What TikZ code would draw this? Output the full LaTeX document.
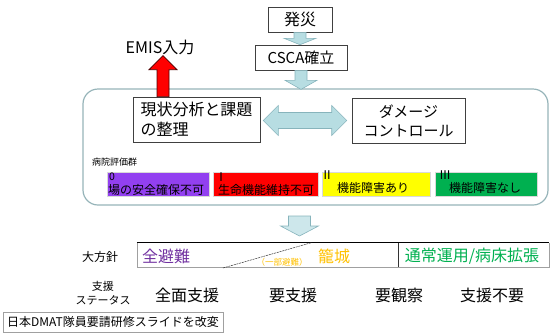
\documentclass[tikz,border=0pt]{standalone}
\usepackage{fontspec}
\setmainfont{Noto Sans CJK JP}
\usetikzlibrary{calc}
\definecolor{abfill}{RGB}{183,221,226}
\definecolor{abdraw}{RGB}{135,180,188}
\definecolor{frm}{RGB}{150,180,185}
\definecolor{boxpur}{RGB}{146,64,240}
\definecolor{txtpur}{RGB}{112,48,160}
\definecolor{orng}{RGB}{255,192,0}
\definecolor{grn}{RGB}{0,176,80}
\definecolor{ylw}{RGB}{255,255,0}
\definecolor{gline}{RGB}{160,160,160}
\begin{document}
\begin{tikzpicture}[x=1pt,y=-1pt,
  fA/.style={font=\fontsize{16}{20}\selectfont},
  fB/.style={font=\fontsize{15}{19}\selectfont},
  fC/.style={font=\fontsize{12}{14}\selectfont},
  fD/.style={font=\fontsize{11}{14}\selectfont},
  fE/.style={font=\fontsize{9}{11}\selectfont},
  fR/.style={font=\fontsize{12}{13}\selectfont},
  wbox/.style={draw=black!75, line width=0.6pt, fill=white, inner sep=0pt},
  cbox/.style={draw=white!85!black, line width=0.5pt, minimum height=24pt, inner sep=0pt},
  barrow/.style={draw=abdraw, fill=abfill, line width=0.6pt, line join=miter},
  rarrow/.style={draw=black!70!red, fill=red, line width=0.8pt}]
\useasboundingbox (0,0) rectangle (550,333);

% top chain
\node[wbox, fA, minimum width=64pt, minimum height=25pt] (hs) at (300,19.5) {発災};
\node[wbox, fB, minimum width=92pt, minimum height=25pt] (cs) at (301,57.5) {CSCA確立};
\node[draw=frm, line width=1.2pt, rounded corners=15pt, minimum width=465pt, minimum height=116pt] (big) at (315.5,147) {};

\draw[barrow] let \p1=(hs.south), \p2=(cs.north) in
  (\x1-6pt,\y1) -- (\x1+6pt,\y1) -- (\x1+6pt,\y1-6pt) -- (\x1+16pt,\y1-6pt)
  -- (\x1,\y2) -- (\x1-16pt,\y1-6pt) -- (\x1-6pt,\y1-6pt) -- cycle;
\draw[barrow] let \p1=(cs.south), \p2=(big.north) in
  (\x1-6pt,\y1) -- (\x1+6pt,\y1) -- (\x1+6pt,\y1-10pt) -- (\x1+16pt,\y1-10pt)
  -- (\x1,\y2-1pt) -- (\x1-16pt,\y1-10pt) -- (\x1-6pt,\y1-10pt) -- cycle;

% inner boxes
\node[wbox, fA, minimum width=127pt, minimum height=45pt, align=left] (an) at (196.5,119.5) {現状分析と課題\\の整理};
\node[wbox, fB, minimum width=113pt, minimum height=45pt, align=center] (dm) at (408.5,120.5) {ダメージ\\コントロール};

\node[fA, inner sep=0pt] (emis) at (160,47) {EMIS入力};
\draw[rarrow] let \p1=(an.north), \p2=(emis.south) in
  (\x1-39.5pt,\y1) -- (\x1-27.5pt,\y1) -- (\x1-27.5pt,\y1+27pt) -- (\x1-19.5pt,\y1+27pt)
  -- (\x1-33.5pt,\y2-1pt) -- (\x1-47.5pt,\y1+27pt) -- (\x1-39.5pt,\y1+27pt) -- cycle;

\draw[barrow] let \p1=(an.east), \p2=(dm.west) in
  (\x1+3pt,\y1-1pt) -- (\x1+18pt,\y1-16pt) -- (\x1+18pt,\y1-9pt) -- (\x2-20pt,\y1-9pt)
  -- (\x2-20pt,\y1-16pt) -- (\x2-5pt,\y1-1pt) -- (\x2-20pt,\y1+14pt) -- (\x2-20pt,\y1+7pt)
  -- (\x1+18pt,\y1+7pt) -- (\x1+18pt,\y1+14pt) -- cycle;

% hospital evaluation groups
\node[fE, anchor=west, inner sep=0pt] (hg) at (92,162) {病院評価群};
\node[cbox, fill=boxpur, minimum width=102pt] (c0) at (158,184) {};
\node[cbox, fill=red, minimum width=105pt] (c1) at (265.5,184) {};
\node[cbox, fill=ylw, minimum width=108pt] (c2) at (376,184) {};
\node[cbox, fill=grn, minimum width=102pt] (c3) at (486,184) {};
\node[font=\fontsize{10.5}{12}\selectfont, anchor=west, inner sep=0pt] (l0) at (109,177) {0};
\node[fC, anchor=west, inner sep=0pt] (t0) at (108,190) {場の安全確保不可};
\node[fR, anchor=west, inner sep=0pt] (l1) at (215,177) {Ⅰ};
\node[fC, anchor=west, inner sep=0pt] (t1) at (218,190) {生命機能維持不可};
\node[fR, anchor=west, inner sep=0pt] (l2) at (321,175.5) {Ⅱ};
\node[fC, inner sep=0pt] (t2) at (373,188) {機能障害あり};
\node[fR, anchor=west, inner sep=0pt] (l3) at (439,175.5) {Ⅲ};
\node[fC, inner sep=0pt] (t3) at (485,188) {機能障害なし};

% down arrow to policy
\coordinate (da) at (299.5,216);
\coordinate (db) at (299.5,236);
\draw[barrow, fill=abfill!70!white] let \p1=(da), \p2=(db) in
  (\x1-11pt,\y1) -- (\x1+11pt,\y1) -- (\x1+11pt,\y1-10pt) -- (\x1+19pt,\y1-10pt)
  -- (\x2,\y2) -- (\x1-19pt,\y1-10pt) -- (\x1-11pt,\y1-10pt) -- cycle;

% policy row
\node[minimum width=261pt, minimum height=24pt, inner sep=0pt] (pl) at (267.5,255) {};
\node[minimum width=151pt, minimum height=24pt, inner sep=0pt] (pr) at (473.5,255) {};
\draw[gline, line width=0.6pt] (pl.north west) -- (pl.south west) -- (pr.south east) -- (pr.north east);
\draw[black, line width=0.7pt] (pl.north west) -- (pr.north east);
\draw[black!80, line width=0.7pt] (pl.north east) -- (pl.south east);
\coordinate (dg1) at (223,268);
\coordinate (dg2) at (312,242.5);
\draw[black!80, line width=0.5pt, dash pattern=on 2pt off 0.8pt] (dg1) -- (dg2);

\node[fC, inner sep=0pt] (pol) at (100,257) {大方針};
\node[fA, text=txtpur, anchor=west, inner sep=0pt] (p1) at (142,256) {全避難};
\node[font=\fontsize{8.5}{10}\selectfont, text=orng, inner sep=0pt] (p2) at (282,262) {（一部避難）};
\node[fA, text=orng, inner sep=0pt] (p3) at (334,256) {籠城};
\node[fA, text=grn, inner sep=0pt] (p4) at (472,256) {通常運用/病床拡張};

% support status
\node[fD, align=center, inner sep=0pt] (ss) at (103,293) {支援\\ステータス};
\node[fA, inner sep=0pt] (s1) at (187,295) {全面支援};
\node[fA, inner sep=0pt] (s2) at (293,295) {要支援};
\node[fA, inner sep=0pt] (s3) at (399,295) {要観察};
\node[fA, inner sep=0pt] (s4) at (492,295) {支援不要};

% footer
\node[draw=gline, line width=0.6pt, fC, minimum width=220pt, minimum height=20pt, inner sep=0pt] (ft) at (113,322) {日本DMAT隊員要請研修スライドを改変};
\end{tikzpicture}
\end{document}
